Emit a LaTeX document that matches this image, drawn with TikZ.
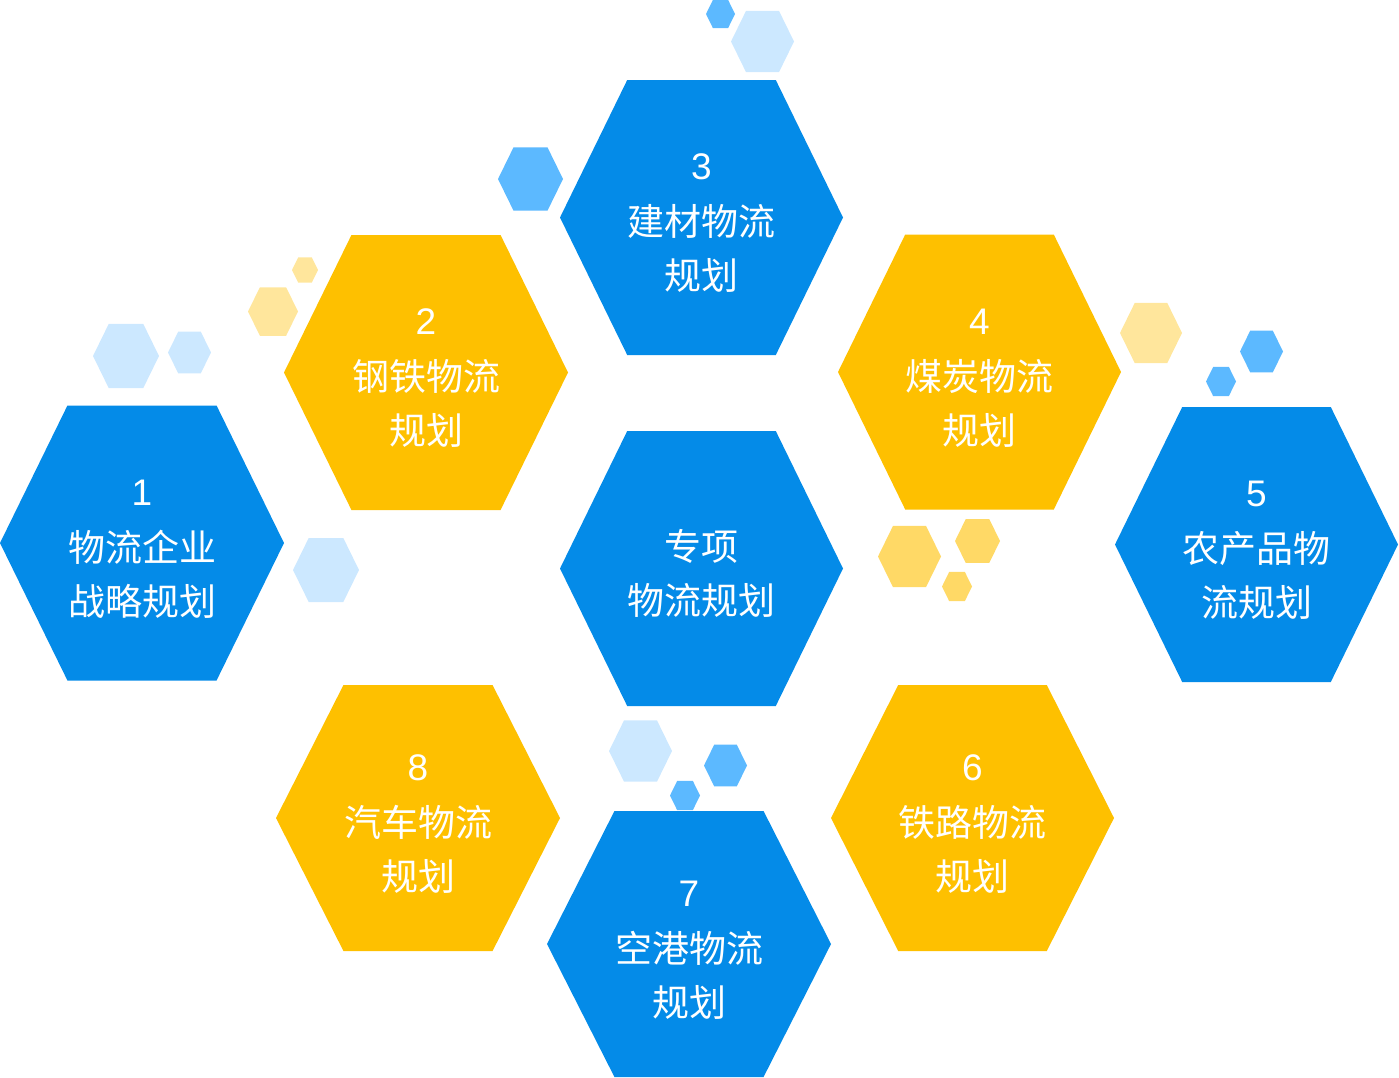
\documentclass[tikz,border=0pt]{standalone}
\usepackage{fontspec}
\setmainfont{Liberation Sans}
\newfontfamily\cjk{Noto Sans CJK SC}
\newfontfamily\numfont{Liberation Sans}
\definecolor{bigblue}{RGB}{4,139,232}
\definecolor{bigyellow}{RGB}{254,192,0}
\definecolor{lightblue}{RGB}{204,232,255}
\definecolor{midblue}{RGB}{92,185,255}
\definecolor{lightyellow}{RGB}{255,230,156}
\definecolor{midyellow}{RGB}{255,217,102}
% #1 cx, #2 cy, #3 half width, #4 half height, #5 colour
\newcommand\hexfill[5]{\fill[#5] ({#1-#3},{#2}) -- ({#1-0.525*#3},{#2-#4}) -- ({#1+0.525*#3},{#2-#4}) -- ({#1+#3},{#2}) -- ({#1+0.525*#3},{#2+#4}) -- ({#1-0.525*#3},{#2+#4}) -- cycle;}
\newcommand\smallhex[4]{\hexfill{#1}{#2}{#3}{0.97*#3}{#4}}
\newcommand\nm[1]{{\numfont #1}}
\begin{document}
\begin{tikzpicture}[x=1pt,y=-1pt,
  lbl/.style={text=white, align=center, inner sep=0pt, font=\cjk\fontsize{37}{54}\selectfont}]
\useasboundingbox (0,0) rectangle (1399,1077);
% small decorative hexagons
\smallhex{720.5}{14}{14.5}{midblue}
\smallhex{762.5}{41.5}{31.5}{lightblue}
\smallhex{530.5}{179}{32.5}{midblue}
\smallhex{305}{270}{13}{lightyellow}
\smallhex{273}{311.5}{25}{lightyellow}
\smallhex{126}{356}{33}{lightblue}
\smallhex{189.5}{352.5}{21.5}{lightblue}
\smallhex{326}{570}{33}{lightblue}
\smallhex{1151}{333}{31}{lightyellow}
\smallhex{1261.5}{351.5}{21.5}{midblue}
\smallhex{1221}{381.5}{15}{midblue}
\smallhex{909.5}{556.5}{31.5}{midyellow}
\smallhex{977.5}{541}{22.5}{midyellow}
\smallhex{957}{586.5}{15}{midyellow}
\smallhex{640.5}{751}{31.5}{lightblue}
\smallhex{725.5}{765.5}{21.5}{midblue}
\smallhex{685}{795.5}{15}{midblue}
% big hexagons
\hexfill{142}{543}{142}{137.5}{bigblue}
\hexfill{426}{372.5}{142}{137.5}{bigyellow}
\hexfill{701.5}{217.5}{141.5}{137.5}{bigblue}
\hexfill{979.5}{372}{141.5}{137.5}{bigyellow}
\hexfill{1256.5}{544.5}{141.5}{137.5}{bigblue}
\hexfill{701.5}{568.5}{141.5}{137.5}{bigblue}
\hexfill{972.5}{818}{141.5}{133}{bigyellow}
\hexfill{689}{944}{142}{133}{bigblue}
\hexfill{418}{818}{142}{133}{bigyellow}
% labels
\node[lbl] (t1) at (142,549) {\nm{1}\\[2pt]物流企业\\战略规划};
\node[lbl] (t2) at (426,378.5) {\nm{2}\\[2pt]钢铁物流\\规划};
\node[lbl] (t3) at (701.5,223.5) {\nm{3}\\[2pt]建材物流\\规划};
\node[lbl] (t4) at (979.5,378) {\nm{4}\\[2pt]煤炭物流\\规划};
\node[lbl] (t5) at (1256.5,550.5) {\nm{5}\\[2pt]农产品物\\流规划};
\node[lbl] (tc) at (701.5,573.5) {专项\\物流规划};
\node[lbl] (t6) at (972.5,824) {\nm{6}\\[2pt]铁路物流\\规划};
\node[lbl] (t7) at (689,950) {\nm{7}\\[2pt]空港物流\\规划};
\node[lbl] (t8) at (418,824) {\nm{8}\\[2pt]汽车物流\\规划};
\end{tikzpicture}
\end{document}
